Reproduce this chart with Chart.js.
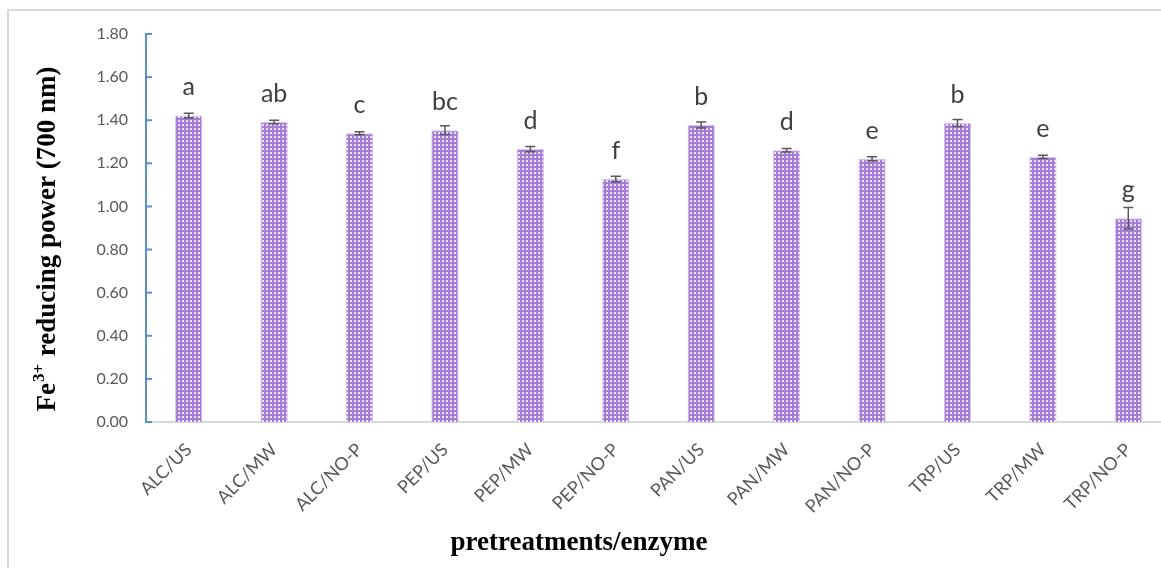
<!DOCTYPE html>
<html>
<head>
<meta charset="utf-8">
<script src="https://cdn.jsdelivr.net/npm/chart.js@4.4.1/dist/chart.umd.min.js"></script>
<style>
	body { margin: 0; background: #ffffff; overflow: hidden; }
	#frame {
		position: absolute;
		left: 7px;
		top: 9px;
		width: 1200px;
		height: 600px;
		border: 2px solid #d9d9d9;
	}
	#wrap {
		position: absolute;
		left: 0;
		top: 0;
		width: 1175px;
		height: 560px;
	}
</style>
</head>
<body>
<div id="frame">
	<div id="wrap"><canvas id="reportChart"></canvas></div>
</div>
<script>
let categories = ['ALC/US', 'ALC/MW', 'ALC/NO-P', 'PEP/US', 'PEP/MW', 'PEP/NO-P',
	'PAN/US', 'PAN/MW', 'PAN/NO-P', 'TRP/US', 'TRP/MW', 'TRP/NO-P'];
let values = [1.422, 1.392, 1.340, 1.354, 1.266, 1.127, 1.378, 1.261, 1.221, 1.387, 1.230, 0.945];
let errors = [0.010, 0.008, 0.007, 0.020, 0.012, 0.013, 0.014, 0.008, 0.009, 0.016, 0.008, 0.050];
let letters = ['a', 'ab', 'c', 'bc', 'd', 'f', 'b', 'd', 'e', 'b', 'e', 'g'];
let yTickLabels = ['0.00', '0.20', '0.40', '0.60', '0.80', '1.00', '1.20', '1.40', '1.60', '1.80'];
let xTitle = 'pretreatments/enzyme';
let yTitle = ['Fe', '3+', ' reducing power (700 nm)'];

let chart = null;

function makePattern() {
	let tile = document.createElement('canvas');
	tile.width = 4;
	tile.height = 4;
	let t = tile.getContext('2d');
	t.fillStyle = '#a67dd6';
	t.fillRect(0, 0, 4, 4);
	t.fillStyle = '#e6dbf6';
	t.fillRect(1, 1, 2, 2);
	t.fillStyle = '#ffffff';
	t.fillRect(2, 2, 1, 1);
	return t.createPattern(tile, 'repeat');
}

// error bars, letters, inward ticks and the two axis titles
let extrasPlugin = {
	id: 'extras',
	afterDatasetsDraw(c) {
		let ctx = c.ctx;
		let x = c.scales.x;
		let y = c.scales.y;
		ctx.save();
		ctx.strokeStyle = '#595959';
		ctx.lineWidth = 1.5;
		values.forEach((v, i) => {
			let px = x.getPixelForValue(i);
			let top = y.getPixelForValue(v + errors[i]);
			let bot = y.getPixelForValue(v - errors[i]);
			ctx.beginPath();
			ctx.moveTo(px, top);
			ctx.lineTo(px, bot);
			ctx.moveTo(px - 5, top);
			ctx.lineTo(px + 5, top);
			ctx.moveTo(px - 5, bot);
			ctx.lineTo(px + 5, bot);
			ctx.stroke();
		});
		ctx.fillStyle = '#404040';
		ctx.font = '25px Lato';
		ctx.textAlign = 'center';
		ctx.textBaseline = 'alphabetic';
		letters.forEach((l, i) => {
			let px = x.getPixelForValue(i);
			let py = y.getPixelForValue(values[i]) - 20;
			ctx.fillText(l, px, py);
		});

		ctx.strokeStyle = '#5b8fd0';
		ctx.lineWidth = 2;
		y.ticks.forEach(tk => {
			let py = y.getPixelForValue(tk.value);
			ctx.beginPath();
			ctx.moveTo(y.right, py);
			ctx.lineTo(y.right + 6, py);
			ctx.stroke();
		});
		ctx.restore();
	},
	afterDraw(c) {
		let ctx = c.ctx;
		ctx.save();
		ctx.fillStyle = '#000000';
		ctx.textBaseline = 'middle';

		ctx.font = 'bold 27px "Liberation Serif"';
		ctx.textAlign = 'center';
		ctx.fillText(xTitle, 570, 532);

		let big = 'bold 27px "Liberation Serif"';
		let small = 'bold 17px "Liberation Serif"';
		ctx.font = big;
		let w1 = ctx.measureText(yTitle[0]).width;
		let w3 = ctx.measureText(yTitle[2]).width;
		ctx.font = small;
		let w2 = ctx.measureText(yTitle[1]).width + 2;
		let total = w1 + w2 + w3;
		ctx.translate(39, 228);
		ctx.rotate(-Math.PI / 2);
		ctx.textAlign = 'left';
		let sx = -total / 2;
		ctx.font = big;
		ctx.fillText(yTitle[0], sx, 0);
		ctx.font = small;
		ctx.fillText(yTitle[1], sx + w1 + 1, -8);
		ctx.font = big;
		ctx.fillText(yTitle[2], sx + w1 + w2, 0);
		ctx.restore();
	}
};

function createChart(context) {
	if (chart) {
		chart.destroy();
	}

	let data = {
		labels: categories,
		datasets: [{
			label: 'Fe3+ reducing power',
			data: values,
			backgroundColor: makePattern(),
			borderColor: '#d6c6ee',
			borderWidth: 1,
			barPercentage: 0.32,
			categoryPercentage: 1
		}]
	};

	let xScaleConfig = {
		grid: { display: false, drawTicks: false },
		border: { color: '#d9d9d9', width: 2 },
		ticks: {
			color: '#595959',
			font: { family: 'Lato', size: 18 },
			maxRotation: 45,
			minRotation: 45,
			padding: 17
		},
		afterFit: (s) => { s.height = 140; }
	};

	let yScaleConfig = {
		min: 0,
		max: 1.8,
		grid: { display: false, drawTicks: false },
		border: { color: '#5b8fd0', width: 2 },
		ticks: {
			stepSize: 0.2,
			color: '#595959',
			font: { family: 'Lato', size: 16 },
			padding: 18,
			callback: (v, i) => yTickLabels[i]
		},
		afterFit: (s) => {
			s.width = 137;
			s.paddingTop = 0;
			s.paddingBottom = 0;
		}
	};

	let config = {
		type: 'bar',
		data: data,
		options: {
			responsive: true,
			maintainAspectRatio: false,
			animation: false,
			layout: { padding: { top: 23, right: 13, bottom: 9, left: 0 } },
			scales: {
				x: xScaleConfig,
				y: yScaleConfig
			},
			plugins: {
				legend: { display: false },
				tooltip: { enabled: false }
			}
		},
		plugins: [extrasPlugin]
	};

	chart = new Chart(context, config);
}

document.addEventListener('DOMContentLoaded', () => {
	let canvas = document.getElementById('reportChart');
	createChart(canvas.getContext('2d'));
});
</script>
</body>
</html>
